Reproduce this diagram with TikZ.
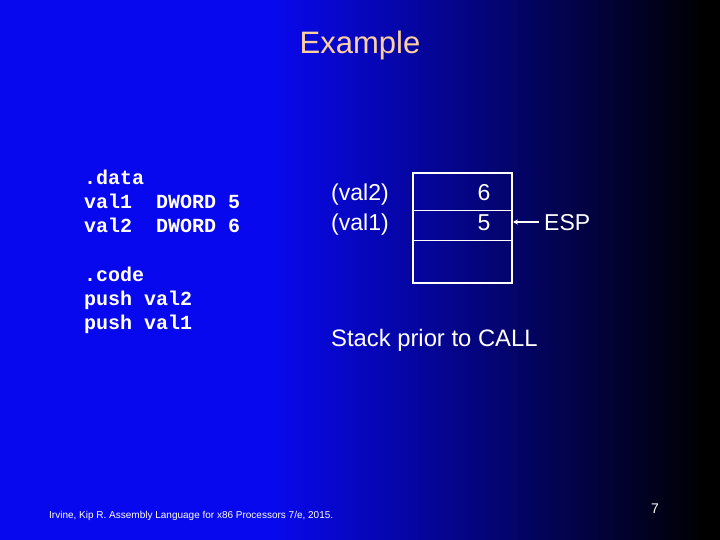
\documentclass[tikz,border=0pt]{standalone}
\usepackage{fontspec}
\usetikzlibrary{arrows.meta}
\setmainfont{Liberation Sans}
\newfontfamily\codefont{Liberation Mono}
\definecolor{bgblue}{RGB}{8,8,238}
\definecolor{titlecol}{RGB}{252,208,160}
\pgfdeclarehorizontalshading{slidebg}{100bp}{color(0bp)=(bgblue); color(25bp)=(bgblue); color(44bp)=(bgblue); color(74bp)=(black); color(100bp)=(black)}
\begin{document}
\begin{tikzpicture}[x=1pt,y=-1pt,
  code/.style={anchor=base west,inner sep=0pt,text=white,font=\codefont\bfseries\fontsize{20}{24}\selectfont},
  lab/.style={anchor=base west,inner sep=0pt,text=white,font=\fontsize{23}{27}\selectfont},
  cell/.style={anchor=base,inner sep=0pt,text=white,font=\fontsize{23}{27}\selectfont}]
\useasboundingbox (0,0) rectangle (720,540);
\shade[shading=slidebg] (0,0) rectangle (720,540);
\node[anchor=base,inner sep=0pt,text=titlecol,font=\fontsize{31}{36}\selectfont] (title) at (360,54) {Example};
% code
\node[code] (c1) at (84,185) {.data};
\node[code] (c2) at (84,209) {val1\ \ DWORD 5};
\node[code] (c3) at (84,233) {val2\ \ DWORD 6};
\node[code] (c4) at (84,281) {.code};
\node[code] (c5) at (84,305) {push val2};
\node[code] (c6) at (84,329) {push val1};
% stack
\node[lab] (l2) at (331,201) {(val2)};
\node[lab] (l1) at (331,230) {(val1)};
\draw[white,line width=2pt] (413,173) rectangle (512,283);
\draw[white,line width=1pt] (413,211) -- (512,211);
\draw[white,line width=1pt] (413,240) -- (512,240);
\coordinate (boxedge) at (513,222);
\node[cell] (v6) at (484,201) {6};
\node[cell] (v5) at (484,230) {5};
\node[lab] (esp) at (544,230) {ESP};
\coordinate (espl) at (539,222);
\draw[white,line width=1.3pt,-{Stealth[length=5pt,width=5pt]}] (espl) -- (boxedge);
\node[lab,font=\fontsize{23.8}{28}\selectfont] (cap) at (331,346) {Stack prior to CALL};
% footer
\node[anchor=base west,inner sep=0pt,text=white,font=\fontsize{10}{12}\selectfont] (foot) at (49,518) {Irvine, Kip R. Assembly Language for x86 Processors 7/e, 2015.};
\node[anchor=base,inner sep=0pt,text=white,font=\fontsize{14}{16}\selectfont] (pg) at (655,513) {7};
\end{tikzpicture}
\end{document}
